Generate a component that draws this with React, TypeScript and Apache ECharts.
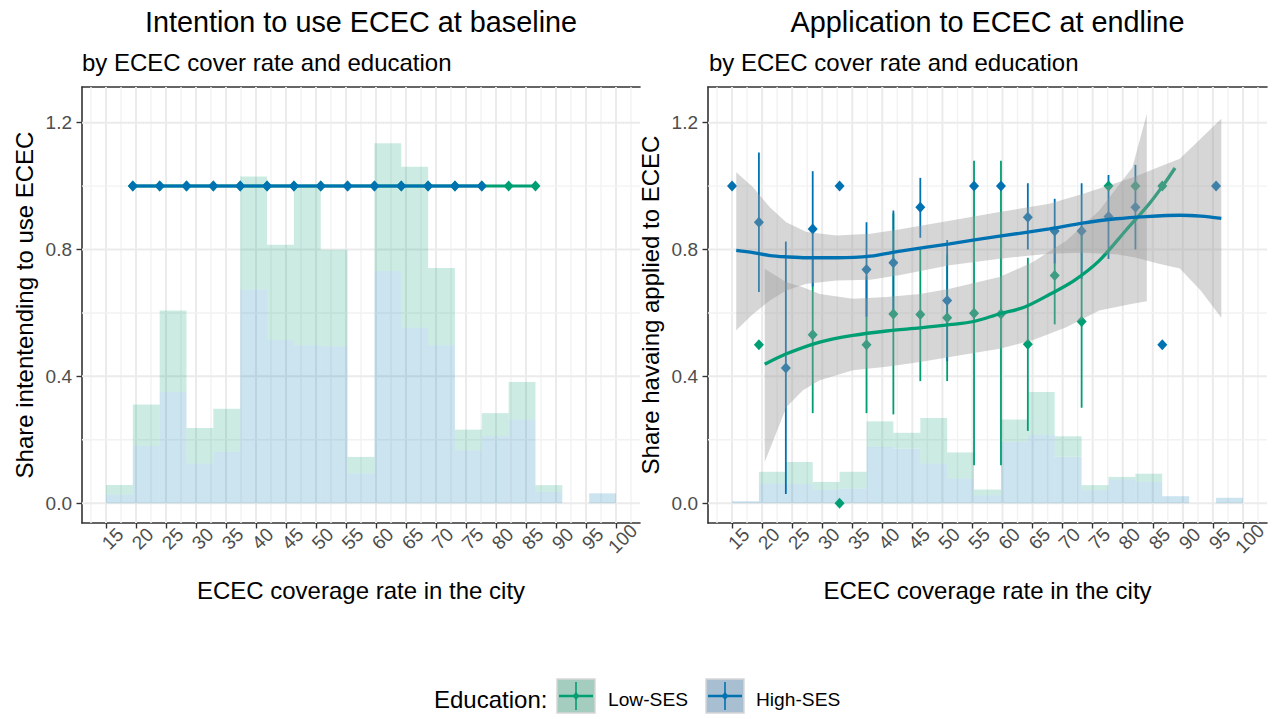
import React, { useEffect, useRef } from 'react';
import * as echarts from 'echarts';

const FONT = '"Liberation Sans", Arial, Helvetica, sans-serif';
const LOW = '#009E73';
const HIGH = '#0072B2';

// ---------- axes ----------
const xTicks = [15, 20, 25, 30, 35, 40, 45, 50, 55, 60, 65, 70, 75, 80, 85, 90, 95, 100];
const xMinor = [12.5, 17.5, 22.5, 27.5, 32.5, 37.5, 42.5, 47.5, 52.5, 57.5, 62.5, 67.5, 72.5, 77.5, 82.5, 87.5, 92.5, 97.5, 102.5];
const yTicks = [0, 0.4, 0.8, 1.2];
const yMinor = [0.2, 0.6, 1.0];

// histogram bin edges (ECEC coverage rate)
const binEdges = [15, 19.47, 23.95, 28.42, 32.89, 37.37, 41.84, 46.32, 50.79, 55.26, 59.74, 64.21, 68.68, 73.16, 77.63, 82.11, 86.58, 91.05, 95.53, 100];

// ---------- left panel: baseline ----------
const baseHistHigh = [0.027, 0.18, 0.351, 0.125, 0.162, 0.674, 0.515, 0.498, 0.495, 0.094, 0.732, 0.553, 0.498, 0.167, 0.211, 0.264, 0.036, 0, 0.031];
const baseHistLow = [0.03, 0.131, 0.257, 0.112, 0.136, 0.356, 0.3, 0.5, 0.304, 0.052, 0.403, 0.508, 0.244, 0.065, 0.073, 0.118, 0.021, 0, 0];
const baseLowX = [19.47, 23.95, 28.42, 32.89, 37.37, 41.84, 46.32, 50.79, 55.26, 59.74, 64.21, 68.68, 73.16, 77.63, 82.11, 86.58];
const baseLowY = [1, 1, 1, 1, 1, 1, 1, 1, 1, 1, 1, 1, 1, 1, 1, 1];
const baseHighX = [19.47, 23.95, 28.42, 32.89, 37.37, 41.84, 46.32, 50.79, 55.26, 59.74, 64.21, 68.68, 73.16, 77.63];
const baseHighY = [1, 1, 1, 1, 1, 1, 1, 1, 1, 1, 1, 1, 1, 1];

// ---------- right panel: endline ----------
const endHistHigh = [0.006, 0.062, 0.06, 0.043, 0.046, 0.177, 0.172, 0.125, 0.078, 0.025, 0.193, 0.215, 0.146, 0.041, 0.075, 0.067, 0.022, 0, 0.017];
const endHistLow = [0, 0.037, 0.07, 0.024, 0.053, 0.081, 0.05, 0.144, 0.082, 0.018, 0.071, 0.136, 0.065, 0.016, 0.008, 0.026, 0, 0, 0];

const endHighX = [15, 19.47, 23.95, 28.42, 32.89, 37.37, 41.84, 46.32, 50.79, 55.26, 59.74, 64.21, 68.68, 73.16, 77.63, 82.11, 86.58, 95.53];
const endHighY = [1.0, 0.886, 0.426, 0.865, 1.0, 0.737, 0.758, 0.933, 0.639, 1.0, 1.0, 0.902, 0.858, 0.858, 0.904, 0.933, 0.5, 1.0];
const endHighLo = [null, 0.666, 0.029, 0.683, null, 0.588, 0.593, 0.837, 0.448, null, null, 0.8, 0.756, 0.707, 0.77, 0.8, null, null];
const endHighHi = [null, 1.106, 0.825, 1.047, null, 0.886, 0.923, 1.026, 0.83, null, null, 1.009, 0.96, 1.009, 1.035, 1.067, null, null];

const endLowX = [19.47, 28.42, 32.89, 37.37, 41.84, 46.32, 50.79, 55.26, 59.74, 64.21, 68.68, 73.16, 77.63, 82.11, 86.58];
const endLowY = [0.5, 0.531, 0.0, 0.5, 0.597, 0.595, 0.585, 0.599, 0.597, 0.501, 0.718, 0.573, 1.0, 1.0, 1.0];
const endLowLo = [null, 0.284, null, 0.284, 0.28, 0.385, 0.385, 0.12, 0.12, 0.228, 0.564, 0.301, null, null, null];
const endLowHi = [null, 0.778, null, 0.716, 0.914, 0.805, 0.785, 1.08, 1.08, 0.774, 0.872, 0.845, null, null, null];

// loess fits
const smoothHighX = [15.7, 18.5, 21.3, 24, 27.4, 32.4, 38, 43, 51.2, 59.5, 67.8, 73.3, 78.9, 83.9, 89.5, 93, 96.4];
const smoothHighY = [0.797, 0.79, 0.781, 0.777, 0.774, 0.774, 0.779, 0.795, 0.818, 0.842, 0.865, 0.883, 0.897, 0.904, 0.908, 0.905, 0.898];
const ribbonHighX = [15.7, 18.5, 21.3, 24, 27.4, 32.4, 38, 43, 51.2, 59.5, 67.8, 73.3, 78.9, 82.1, 86, 89.5, 93, 96.4];
const ribbonHighLo = [0.545, 0.597, 0.639, 0.671, 0.692, 0.702, 0.705, 0.72, 0.75, 0.771, 0.787, 0.79, 0.785, 0.775, 0.755, 0.74, 0.67, 0.585];
const ribbonHighHi = [1.044, 0.996, 0.933, 0.886, 0.855, 0.844, 0.85, 0.864, 0.891, 0.918, 0.944, 0.975, 1.01, 1.03, 1.06, 1.086, 1.15, 1.212];

const smoothLowX = [20.44, 24.05, 29.6, 35.1, 40.7, 46.3, 51.2, 55.2, 59.5, 63.6, 67.8, 71.9, 76.1, 80.5, 84.4, 86.9, 88.7];
const smoothLowY = [0.438, 0.471, 0.508, 0.529, 0.543, 0.553, 0.563, 0.573, 0.597, 0.618, 0.658, 0.702, 0.765, 0.86, 0.944, 1.007, 1.057];
const ribbonLowX = [20.44, 24.05, 26.8, 29.6, 35.1, 40.7, 46.3, 51.2, 59.5, 65, 70.6, 76.1, 81.6, 84.0];
const ribbonLowLo = [0.13, 0.303, 0.356, 0.388, 0.419, 0.43, 0.445, 0.461, 0.487, 0.514, 0.555, 0.608, 0.629, 0.637];
const ribbonLowHi = [0.739, 0.697, 0.681, 0.66, 0.645, 0.65, 0.66, 0.676, 0.713, 0.76, 0.828, 0.923, 1.059, 1.227];

// ---------- builders ----------
const gridRows = [
  ...xTicks.map((v) => [0, v, 1]),
  ...xMinor.map((v) => [0, v, 0]),
  ...yTicks.map((v) => [1, v, 1]),
  ...yMinor.map((v) => [1, v, 0]),
];

function gridSeries(idx: number) {
  return {
    type: 'custom',
    xAxisIndex: idx,
    yAxisIndex: idx,
    z: 1,
    silent: true,
    data: gridRows,
    renderItem: (params: any, api: any) => {
      const cs = params.coordSys;
      const dir = api.value(0);
      const v = api.value(1);
      const major = api.value(2) === 1;
      const style = { stroke: major ? '#ebebeb' : '#f2f2f2', lineWidth: major ? 2 : 1.4 };
      if (dir === 0) {
        const p = api.coord([v, 0.5]);
        return { type: 'line', shape: { x1: p[0], y1: cs.y, x2: p[0], y2: cs.y + cs.height }, style };
      }
      const p = api.coord([50, v]);
      return { type: 'line', shape: { x1: cs.x, y1: p[1], x2: cs.x + cs.width, y2: p[1] }, style };
    },
  };
}

function histSeries(idx: number, high: number[], low: number[]) {
  const rowsHigh: number[][] = [];
  const rowsLow: number[][] = [];
  for (let i = 0; i < high.length; i++) {
    if (high[i] > 0) rowsHigh.push([binEdges[i], binEdges[i + 1], 0, high[i]]);
    if (low[i] > 0) rowsLow.push([binEdges[i], binEdges[i + 1], high[i], high[i] + low[i]]);
  }
  const mk = (rows: number[][], fill: string) => ({
    type: 'custom',
    xAxisIndex: idx,
    yAxisIndex: idx,
    z: 2,
    silent: true,
    data: rows,
    encode: { x: [0, 1], y: [2, 3] },
    renderItem: (params: any, api: any) => {
      const p0 = api.coord([api.value(0), api.value(3)]);
      const p1 = api.coord([api.value(1), api.value(2)]);
      return {
        type: 'rect',
        shape: { x: p0[0], y: p0[1], width: p1[0] - p0[0], height: p1[1] - p0[1] },
        style: { fill },
      };
    },
  });
  return [mk(rowsHigh, 'rgba(0,114,178,0.2)'), mk(rowsLow, 'rgba(0,158,115,0.2)')];
}

function errSeries(idx: number, xs: number[], lo: (number | null)[], hi: (number | null)[], color: string, z: number) {
  const rows: number[][] = [];
  xs.forEach((x, i) => {
    if (lo[i] != null && hi[i] != null) rows.push([x, lo[i] as number, hi[i] as number]);
  });
  return {
    type: 'custom',
    xAxisIndex: idx,
    yAxisIndex: idx,
    z,
    silent: true,
    data: rows,
    encode: { x: 0, y: [1, 2] },
    renderItem: (params: any, api: any) => {
      const a = api.coord([api.value(0), api.value(1)]);
      const b = api.coord([api.value(0), api.value(2)]);
      return { type: 'line', shape: { x1: a[0], y1: a[1], x2: b[0], y2: b[1] }, style: { stroke: color, lineWidth: 1.8 } };
    },
  };
}

function pointSeries(idx: number, xs: number[], ys: number[], color: string, z: number) {
  return {
    type: 'scatter',
    xAxisIndex: idx,
    yAxisIndex: idx,
    z,
    silent: true,
    symbol: 'diamond',
    symbolSize: [10, 11],
    itemStyle: { color, opacity: 1 },
    data: xs.map((x, i) => [x, ys[i]]),
  };
}

function ribbonSeries(idx: number, xs: number[], lo: number[], hi: number[], z: number) {
  return {
    type: 'custom',
    xAxisIndex: idx,
    yAxisIndex: idx,
    z,
    silent: true,
    data: xs.map((x, i) => [x, lo[i], hi[i]]),
    encode: { x: 0, y: [1, 2] },
    renderItem: (params: any, api: any) => {
      if (params.dataIndex !== 0) return null;
      const pts: number[][] = [];
      for (let i = 0; i < xs.length; i++) pts.push(api.coord([xs[i], hi[i]]));
      for (let i = xs.length - 1; i >= 0; i--) pts.push(api.coord([xs[i], lo[i]]));
      return { type: 'polygon', shape: { points: pts }, style: { fill: 'rgba(153,153,153,0.4)' } };
    },
  };
}

function smoothSeries(idx: number, xs: number[], ys: number[], color: string, z: number) {
  return {
    type: 'line',
    xAxisIndex: idx,
    yAxisIndex: idx,
    z,
    silent: true,
    symbol: 'none',
    smooth: 0.3,
    lineStyle: { color, width: 3.3 },
    data: xs.map((x, i) => [x, ys[i]]),
  };
}

function xAxisDef(idx: number, top: boolean) {
  if (top) {
    return {
      gridIndex: idx, type: 'value', min: 11, max: 104, position: 'top',
      axisLine: { show: true, onZero: false, lineStyle: { color: '#333333', width: 1.6 } },
      axisTick: { show: false }, axisLabel: { show: false }, splitLine: { show: false },
    };
  }
  return {
    gridIndex: idx, type: 'value', min: 11, max: 104, position: 'bottom',
    axisLine: { show: true, onZero: false, lineStyle: { color: '#333333', width: 1.6 } },
    axisTick: { show: true, length: 5.5, customValues: xTicks, lineStyle: { color: '#333333', width: 1.4 } },
    axisLabel: {
      customValues: xTicks, rotate: 45, align: 'center', verticalAlign: 'top', margin: 9,
      fontSize: 19, color: '#4d4d4d', fontFamily: FONT,
    },
    splitLine: { show: false },
  };
}

function yAxisDef(idx: number) {
  return {
    gridIndex: idx, type: 'value', min: -0.0625, max: 1.3125,
    axisLine: { show: true, onZero: false, lineStyle: { color: '#333333', width: 1.6 } },
    axisTick: { show: true, length: 5.5, customValues: yTicks, lineStyle: { color: '#333333', width: 1.4 } },
    axisLabel: {
      customValues: yTicks, margin: 10, fontSize: 19, color: '#4d4d4d', fontFamily: FONT,
      formatter: (v: number) => v.toFixed(1),
    },
    splitLine: { show: false },
  };
}

function txt(text: string, x: number, y: number, size: number, align: string, extra: any = {}) {
  return {
    type: 'text', x, y, silent: true, ...extra,
    style: { text, fill: '#000000', fontSize: size, fontFamily: FONT, textAlign: align, textVerticalAlign: 'middle' },
  };
}

function legendKey(x: number, fill: string, color: string) {
  const y = 679, w = 38, h = 34;
  const cx = x + w / 2, cy = y + h / 2;
  return [
    { type: 'rect', silent: true, shape: { x, y, width: w, height: h }, style: { fill, stroke: '#d6d6d6', lineWidth: 1.5 } },
    { type: 'line', silent: true, shape: { x1: x + 2, y1: cy, x2: x + w - 2, y2: cy }, style: { stroke: color, lineWidth: 2.6 } },
    { type: 'line', silent: true, shape: { x1: cx, y1: y + 3, x2: cx, y2: y + h - 3 }, style: { stroke: color, lineWidth: 1.6 } },
    { type: 'polygon', silent: true, shape: { points: [[cx, cy - 4], [cx + 3.5, cy], [cx, cy + 4], [cx - 3.5, cy]] }, style: { fill: color } },
  ];
}

const App: React.FC = () => {
  const ref = useRef<HTMLDivElement>(null);
  useEffect(() => {
    if (!ref.current) return;
    const chart = echarts.init(ref.current, undefined, { renderer: 'svg' });
    const option: any = {
      animation: false,
      backgroundColor: '#ffffff',
      grid: [
        { left: 82, top: 87, width: 558, height: 436, show: false },
        { left: 708, top: 87, width: 559, height: 436, show: false },
      ],
      xAxis: [xAxisDef(0, false), xAxisDef(1, false), xAxisDef(0, true), xAxisDef(1, true)],
      yAxis: [yAxisDef(0), yAxisDef(1)],
      series: [
        gridSeries(0),
        ...histSeries(0, baseHighHistSafe(), baseHistLow),
        {
          type: 'line', xAxisIndex: 0, yAxisIndex: 0, z: 4, silent: true,
          symbol: 'diamond', symbolSize: [10, 11], showSymbol: true,
          itemStyle: { color: LOW }, lineStyle: { color: LOW, width: 3 },
          data: baseLowX.map((x, i) => [x, baseLowY[i]]),
        },
        {
          type: 'line', xAxisIndex: 0, yAxisIndex: 0, z: 5, silent: true,
          symbol: 'diamond', symbolSize: [10, 11], showSymbol: true,
          itemStyle: { color: HIGH }, lineStyle: { color: HIGH, width: 3 },
          data: baseHighX.map((x, i) => [x, baseHighY[i]]),
        },
        gridSeries(1),
        ...histSeries(1, endHistHigh, endHistLow),
        errSeries(1, endLowX, endLowLo, endLowHi, LOW, 3),
        pointSeries(1, endLowX, endLowY, LOW, 3),
        errSeries(1, endHighX, endHighLo, endHighHi, HIGH, 3),
        pointSeries(1, endHighX, endHighY, HIGH, 3),
        ribbonSeries(1, ribbonLowX, ribbonLowLo, ribbonLowHi, 4),
        smoothSeries(1, smoothLowX, smoothLowY, LOW, 5),
        ribbonSeries(1, ribbonHighX, ribbonHighLo, ribbonHighHi, 6),
        smoothSeries(1, smoothHighX, smoothHighY, HIGH, 7),
      ],
      graphic: [
        txt('Intention to use ECEC at baseline', 361, 22, 28.8, 'center'),
        txt('by ECEC cover rate and education', 82, 62, 24, 'left'),
        txt('Application to ECEC at endline', 987.5, 22, 28.8, 'center'),
        txt('by ECEC cover rate and education', 709, 62, 24, 'left'),
        txt('Share intentending to use ECEC', 24, 305, 24, 'center', { rotation: Math.PI / 2 }),
        txt('Share havaing applied to ECEC', 650, 305, 24, 'center', { rotation: Math.PI / 2 }),
        txt('ECEC coverage rate in the city', 361, 590, 24, 'center'),
        txt('ECEC coverage rate in the city', 987.5, 590, 24, 'center'),
        txt('Education:', 434, 699, 24, 'left'),
        ...legendKey(557, '#a5cdbf', LOW),
        txt('Low-SES', 608, 699, 19.2, 'left'),
        ...legendKey(706, '#a7bfd0', HIGH),
        txt('High-SES', 756, 699, 19.2, 'left'),
      ],
    };
    chart.setOption(option);
    return () => chart.dispose();
  }, []);
  return <div ref={ref} style={{ position: 'fixed', left: 0, top: 0, width: 1276, height: 719, background: '#fff' }} />;
};

function baseHighHistSafe() {
  return baseHistHigh;
}

export default App;
